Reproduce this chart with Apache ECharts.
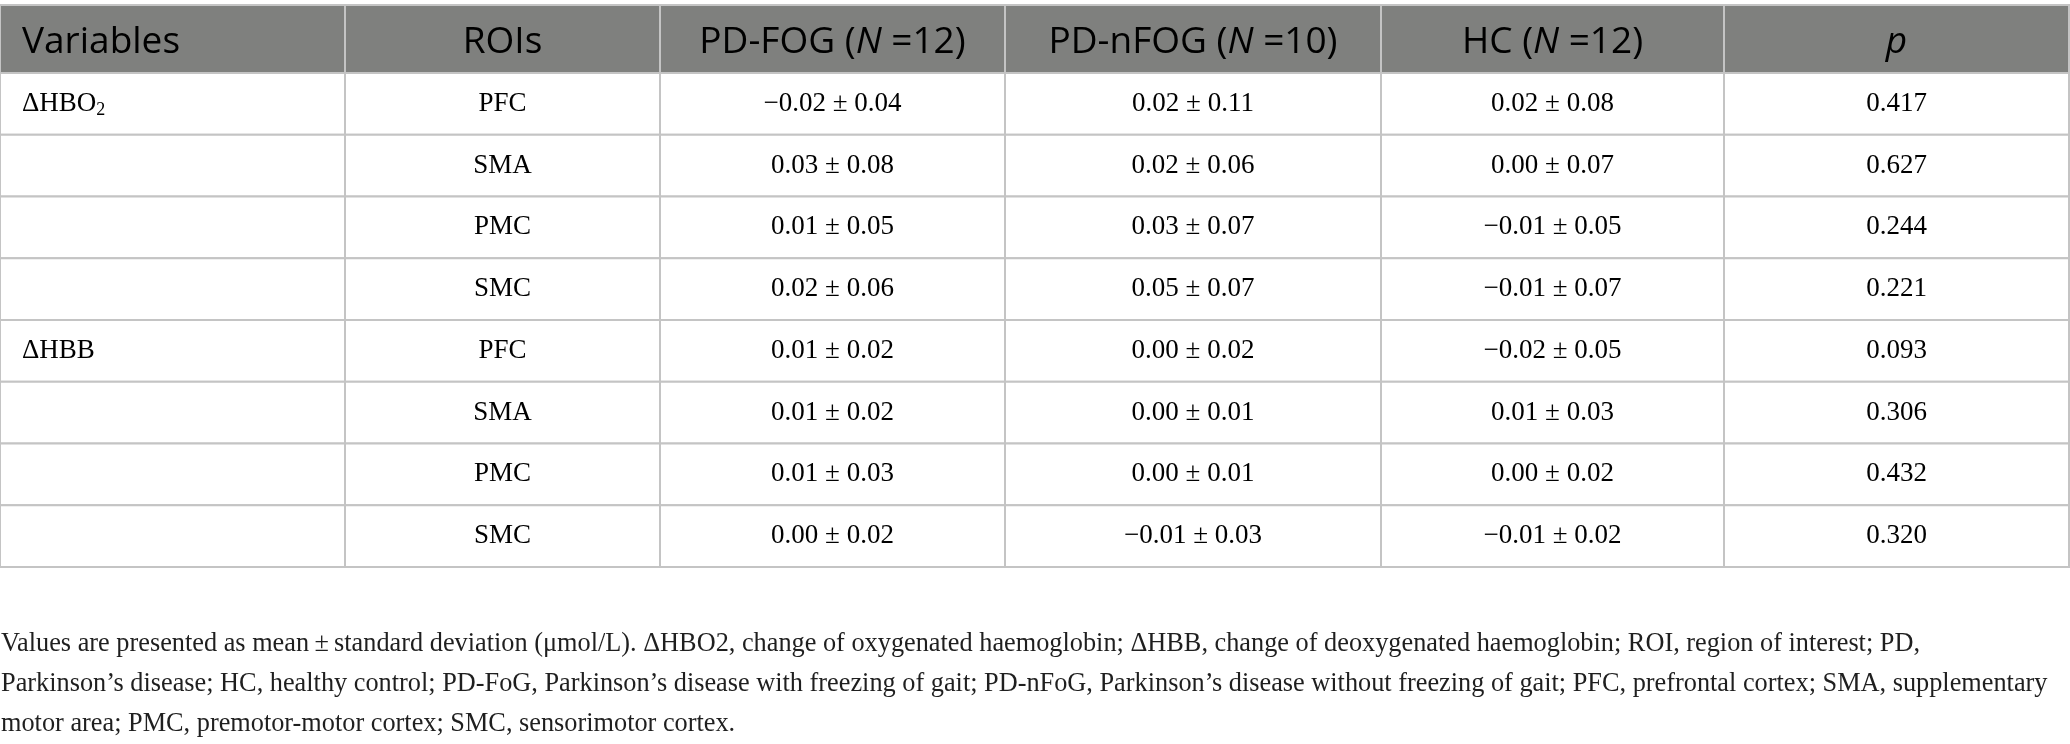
<!DOCTYPE html>
<html>
<head>
<meta charset="utf-8">
<title>Cortical activation by ROI</title>
<script src="https://cdn.jsdelivr.net/npm/echarts@6/dist/echarts.min.js"></script>
<style>
    html, body { margin: 0; padding: 0; background: #ffffff; }
    #chart { width: 2070px; height: 744px; }
</style>
</head>
<body>
<div id="chart"></div>
<script>
// 表格数据（均值 ± 标准差，μmol/L）
const headers = ['Variables', 'ROIs', 'PD-FOG', 'PD-nFOG', 'HC', 'p'];
const groupN = [null, null, 12, 10, 12, null];
const variables = ['ΔHBO2', '', '', '', 'ΔHBB', '', '', ''];
const rois = ['PFC', 'SMA', 'PMC', 'SMC', 'PFC', 'SMA', 'PMC', 'SMC'];
const pdFogMean = [-0.02, 0.03, 0.01, 0.02, 0.01, 0.01, 0.01, 0.00];
const pdFogSd = [0.04, 0.08, 0.05, 0.06, 0.02, 0.02, 0.03, 0.02];
const pdNfogMean = [0.02, 0.02, 0.03, 0.05, 0.00, 0.00, 0.00, -0.01];
const pdNfogSd = [0.11, 0.06, 0.07, 0.07, 0.02, 0.01, 0.01, 0.03];
const hcMean = [0.02, 0.00, -0.01, -0.01, -0.02, 0.01, 0.00, -0.01];
const hcSd = [0.08, 0.07, 0.05, 0.07, 0.05, 0.03, 0.02, 0.02];
const pValues = ['0.417', '0.627', '0.244', '0.221', '0.093', '0.306', '0.432', '0.320'];

const footnoteLines = [
    'Values are presented as mean\u2009±\u2009standard deviation (μmol/L). ΔHBO2, change of oxygenated haemoglobin; ΔHBB, change of deoxygenated haemoglobin; ROI, region of interest; PD,',
    'Parkinson’s disease; HC, healthy control; PD-FoG, Parkinson’s disease with freezing of gait; PD-nFoG, Parkinson’s disease without freezing of gait; PFC, prefrontal cortex; SMA, supplementary',
    'motor area; PMC, premotor-motor cortex; SMC, sensorimotor cortex.'
];

// 版式（列宽、行高比例）
const colWidths = [345, 315, 345, 376, 343, 345];
const headWeight = 1.1;
const HEAD_BG = '#7f807e';
const LINE = '#c4c4c4';
const SANS = '"Open Sans", "Noto Sans", sans-serif';
const SERIF = '"Liberation Serif", "DejaVu Serif", serif';

const colEdges = [0];
colWidths.forEach(w => colEdges.push(colEdges[colEdges.length - 1] + w));
const rowEdges = [0, headWeight];
rois.forEach(() => rowEdges.push(rowEdges[rowEdges.length - 1] + 1));

/**
 * 均值 ± 标准差格式
 */
function fmtMeanSd(m, sd) {
    const ms = (m < 0 ? '\u2212' : '') + Math.abs(m).toFixed(2);
    return ms + ' ± ' + sd.toFixed(2);
}

// 组装单元格
const cells = [];
headers.forEach((h, c) => {
    let text;
    if (h === 'p') {
        text = '{hi|p}';
    } else if (groupN[c] !== null) {
        text = '{h|' + h + ' (}{hi|N}{h| =' + groupN[c] + ')}';
    } else {
        text = '{h|' + h + '}';
    }
    cells.push({ value: [c, 0], text: text });
});
rois.forEach((roi, i) => {
    const r = i + 1;
    const v = variables[i];
    let varText = '';
    if (v === 'ΔHBO2') {
        varText = '{b|ΔHBO}{sub|2}';
    } else if (v) {
        varText = '{b|' + v + '}';
    }
    const row = [
        varText,
        '{b|' + roi + '}',
        '{b|' + fmtMeanSd(pdFogMean[i], pdFogSd[i]) + '}',
        '{b|' + fmtMeanSd(pdNfogMean[i], pdNfogSd[i]) + '}',
        '{b|' + fmtMeanSd(hcMean[i], hcSd[i]) + '}',
        '{b|' + pValues[i] + '}'
    ];
    row.forEach((t, c) => cells.push({ value: [c, r], text: t }));
});

const RICH = {
    h: { fontFamily: SANS, fontSize: 37, color: '#ffffff' },
    hi: { fontFamily: SANS, fontSize: 37, fontStyle: 'italic', color: '#ffffff' },
    b: { fontFamily: SERIF, fontSize: 27, color: '#1a1a1a' },
    sub: { fontFamily: SERIF, fontSize: 18, color: '#1a1a1a', padding: [12, 0, 0, 0] }
};

function renderCell(params, api) {
    const c = api.value(0);
    const r = api.value(1);
    const p0 = api.coord([colEdges[c], rowEdges[r]]);
    const p1 = api.coord([colEdges[c + 1], rowEdges[r + 1]]);
    const isHead = r === 0;
    const x = c === 0 ? p0[0] + 22 : (p0[0] + p1[0]) / 2;
    return {
        type: 'group',
        children: [
            {
                type: 'rect',
                shape: { x: p0[0], y: p0[1], width: p1[0] - p0[0], height: p1[1] - p0[1] },
                style: { fill: isHead ? HEAD_BG : '#ffffff', stroke: LINE, lineWidth: 2 }
            },
            {
                type: 'text',
                style: {
                    text: cells[params.dataIndex].text,
                    x: x,
                    y: (p0[1] + p1[1]) / 2 + (isHead ? 3 : 0),
                    align: c === 0 ? 'left' : 'center',
                    verticalAlign: 'middle',
                    rich: RICH
                }
            }
        ]
    };
}

const chart = echarts.init(document.getElementById('chart'));
chart.setOption({
    backgroundColor: '#ffffff',
    animation: false,
    grid: { left: 0, top: 5, width: 2069, height: 562 },
    xAxis: { type: 'value', min: 0, max: colEdges[colEdges.length - 1], show: false },
    yAxis: { type: 'value', min: 0, max: rowEdges[rowEdges.length - 1], inverse: true, show: false },
    series: [{
        type: 'custom',
        clip: false,
        renderItem: renderCell,
        encode: { x: 0, y: 1 },
        data: cells.map(d => d.value)
    }],
    graphic: [{
        type: 'text',
        left: 1,
        top: 624,
        style: {
            text: footnoteLines.join('\n'),
            font: '26.3px ' + SERIF,
            lineHeight: 40,
            fill: '#1f1f1f'
        }
    }]
});
</script>
</body>
</html>
